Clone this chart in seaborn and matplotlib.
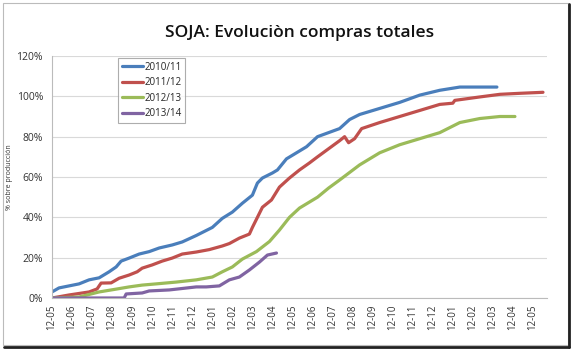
import matplotlib
matplotlib.use("Agg")
import matplotlib.pyplot as plt
import seaborn as sns
import pandas as pd
from matplotlib.patches import Rectangle
from matplotlib.ticker import PercentFormatter

# ~~~~~~~~~~~~~~~~~~~~~~~~~~~~~~~~~~~~~~~~~~~~~~~~~~~~~~~~~~~~~~~~~~~~~~~~~~~~
# Data: x in months since 12-05, y in % of production
# ~~~~~~~~~~~~~~~~~~~~~~~~~~~~~~~~~~~~~~~~~~~~~~~~~~~~~~~~~~~~~~~~~~~~~~~~~~~~
tick_labels = ["12-05", "12-06", "12-07", "12-08", "12-09", "12-10", "12-11", "12-12",
               "12-01", "12-02", "12-03", "12-04", "12-05", "12-06", "12-07", "12-08",
               "12-09", "12-10", "12-11", "12-12", "12-01", "12-02", "12-03", "12-04",
               "12-05"]
seasons = ["2010/11", "2011/12", "2012/13", "2013/14"]
colors = ["#4A7EBB", "#C0504D", "#9BBB59", "#8064A2"]

m_1011 = [0.0, 0.35, 1.35, 1.85, 2.35, 2.85, 3.2, 3.45, 3.85, 4.35, 4.85, 5.35, 6.0, 6.5,
          7.2, 8.0, 8.5, 9.0, 9.5, 10.0, 10.25, 10.5, 11.0, 11.25, 11.7, 12.2, 12.7,
          13.25, 13.8, 14.35, 14.85, 15.35, 16.35, 17.35, 18.35, 19.35, 20.35, 22.2]
v_1011 = [3, 5, 7, 9, 10, 13, 15.4, 18.3, 19.8, 21.8, 23, 24.8, 26.3, 27.8, 31, 35, 39.5,
          42.6, 47, 51, 57, 59.5, 62, 63.5, 69, 72, 75, 80, 82, 84, 88.5, 91, 94, 97,
          100.6, 103, 104.6, 104.6]

m_1112 = [0.0, 0.85, 1.85, 2.25, 2.45, 2.95, 3.35, 3.85, 4.25, 4.5, 5.0, 5.5, 6.0, 6.5,
          7.2, 7.85, 8.5, 8.85, 9.35, 9.85, 10.0, 10.5, 10.95, 11.35, 11.85, 12.35,
          12.85, 13.25, 13.8, 14.35, 14.6, 14.8, 15.1, 15.45, 16.35, 17.35, 18.35, 19.35,
          20.0, 20.1, 21.35, 22.35, 23.35, 24.5]
v_1112 = [0, 1.5, 3, 4.5, 7.4, 7.5, 9.8, 11.4, 13, 14.8, 16.4, 18.3, 19.8, 21.8, 22.8, 24,
          25.8, 27, 29.7, 31.7, 35, 45, 48.6, 55, 59.5, 63.5, 67, 70, 74, 78, 80, 77, 79,
          84, 87, 90, 93, 96, 96.6, 98, 99.7, 101, 101.5, 102]

m_1213 = [0.0, 1.35, 2.35, 3.2, 3.85, 4.5, 5.2, 6.2, 7.2, 8.0, 8.5, 9.0, 9.5, 10.2, 10.85,
          11.35, 11.85, 12.35, 12.85, 13.25, 13.8, 14.35, 15.35, 16.35, 17.35, 18.35,
          19.35, 20.35, 21.35, 22.35, 23.1]
v_1213 = [0, 0.5, 3, 4.4, 5.5, 6.4, 7, 7.9, 9, 10.4, 13, 15.4, 19.3, 23, 28, 33.7, 40,
          44.6, 47.6, 50, 54.5, 58.5, 66, 72, 76, 79, 82, 87, 89, 90, 90]

m_1314 = [0.0, 3.6, 3.7, 4.5, 4.85, 5.85, 7.2, 7.7, 8.35, 8.85, 9.35, 9.85, 10.35, 10.75,
          11.2]
v_1314 = [0, 0, 2, 2.5, 3.5, 4, 5.5, 5.5, 6, 9, 10.4, 13.9, 17.8, 21.3, 22.3]

# long table for seaborn
frames = []
for s, m, v in zip(seasons, [m_1011, m_1112, m_1213, m_1314],
                   [v_1011, v_1112, v_1213, v_1314]):
    frames.append(pd.DataFrame({"mes": m, "pct": v, "campaña": s}))
df = pd.concat(frames, ignore_index=True)

# ~~~~~~~~~~~~~~~~~~~~~~~~~~~~~~~~~~~~~~~~~~~~~~~~~~~~~~~~~~~~~~~~~~~~~~~~~~~~
sns.set_style("white")
plt.rcParams["font.family"] = ["Open Sans", "DejaVu Sans"]

fig = plt.figure(figsize=(5.72, 3.51), dpi=100)
ax = fig.add_axes([52 / 572, 1 - 298 / 351, (547 - 52) / 572, (298 - 56) / 351])

sns.lineplot(data=df, x="mes", y="pct", hue="campaña", palette=colors,
             linewidth=2.3, sort=False, estimator=None, ax=ax)

ax.set_xlim(0, 24.7)
ax.set_ylim(0, 120)
ax.set_xticks(range(len(tick_labels)))
ax.set_xticklabels(tick_labels, rotation=90, fontsize=7, color="#333333")
ax.set_yticks(range(0, 121, 20))
ax.yaxis.set_major_formatter(PercentFormatter(decimals=0))
ax.tick_params(axis="y", labelsize=7.5, colors="#333333", length=3, color="#bbbbbb")
ax.tick_params(axis="x", length=3, color="#bbbbbb", pad=2)
ax.grid(axis="y", color="#d9d9d9", linewidth=0.8)
ax.set_axisbelow(True)
for side in ["top", "right"]:
    ax.spines[side].set_visible(False)
for side in ["left", "bottom"]:
    ax.spines[side].set_color("#bbbbbb")
    ax.spines[side].set_linewidth(0.8)

ax.set_xlabel("")
ax.set_ylabel("")
fig.text(10 / 572, 1 - 177 / 351, "% sobre producción", rotation=90, fontsize=5,
         ha="center", va="center", color="#333333")
fig.text(300 / 572, 1 - 33 / 351, "SOJA: Evoluciòn compras totales", fontsize=12.5,
         fontweight="semibold", ha="center", va="center", color="#111111")

leg = ax.legend(loc="upper left", bbox_to_anchor=((118 - 52) / 495, (298 - 58) / 242),
                fontsize=7, frameon=True, fancybox=False, handlelength=2.2,
                handletextpad=0.1, borderpad=0.4, labelspacing=0.45, borderaxespad=0)
leg.get_frame().set_edgecolor("#999999")
leg.get_frame().set_linewidth(0.8)
for line in leg.get_lines():
    line.set_linewidth(2.3)

# frame round the whole chart, with a darker edge right and below
fig.patches.append(Rectangle((3 / 572, 1 - 345 / 351), 565 / 572, 342 / 351,
                             transform=fig.transFigure, fill=False,
                             edgecolor="#bbbbbb", linewidth=0.8))
fig.lines.append(plt.Line2D([4 / 572, 569 / 572], [1 - 347 / 351, 1 - 347 / 351],
                            transform=fig.transFigure, color="#222222", linewidth=2))
fig.lines.append(plt.Line2D([569 / 572, 569 / 572], [1 - 347 / 351, 1 - 4 / 351],
                            transform=fig.transFigure, color="#222222", linewidth=2))

fig.savefig("out.png", dpi=100)
